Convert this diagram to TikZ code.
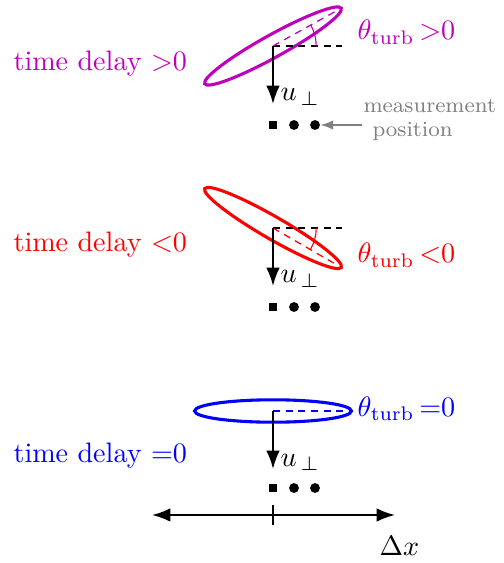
\documentclass[tikz,border=0pt]{standalone}
\usepackage{amsmath}
\usetikzlibrary{arrows.meta, positioning, calc}

\definecolor{turbmag}{RGB}{190,0,190}
\definecolor{measgray}{RGB}{128,128,128}

\begin{document}
\begin{tikzpicture}[
    x=0.0125cm, y=-0.0125cm,
    eddy/.style={line width=1.1pt},
    refline/.style={dash pattern=on 2.5pt off 2pt, line width=0.45pt},
    angarc/.style={line width=0.4pt},
    arr/.style={-{Latex[length=6.5pt, width=4.8pt]}, line width=0.7pt},
    lbl/.style={inner sep=0pt, anchor=base west},
    meas/.style={lbl, font=\fontsize{7.7}{9}\selectfont, text=measgray},
    sqmark/.style={fill=black, inner sep=0pt, minimum size=3.1pt},
    dotmark/.style={circle, fill=black, inner sep=0pt, minimum size=3.5pt},
]
    \useasboundingbox (0,0) rectangle (503,563);

    % Centres of the three eddies
    \coordinate (cA) at (273,46);
    \coordinate (cB) at (273,228);
    \coordinate (cC) at (273,411);

    % Eddy tilted upward
    \draw[eddy, turbmag, rotate around={29:(cA)}] (cA) ellipse [x radius=0.975cm, y radius=0.14cm];
    \draw[refline] (cA) -- (342,46);
    \draw[refline, turbmag] (cA) -- ($(cA)+(29:0.9cm)$);
    \draw[angarc, turbmag] ($(cA)+(0:0.54cm)$) arc[start angle=0, end angle=29, radius=0.54cm];
    \coordinate (tA) at (273,104);
    \draw[arr] (cA) -- (tA);
    \node[lbl] (uA) at (280,101) {$u_{\,\perp}$};
    \node[sqmark] (mA0) at (273,125) {};
    \node[dotmark] (mA1) at (294,125) {};
    \node[dotmark] (mA2) at (315,125) {};
    \coordinate (pA) at (362,125);
    \draw[-{Latex[length=4.5pt, width=3.4pt]}, line width=0.6pt, measgray] (pA) -- (mA2.east);
    \node[meas] (measA) at (363,113) {measurement};
    \node[meas] (measB) at (372,137) {position};
    \node[lbl, text=turbmag] (thA) at (357,40) {$\theta_{\mathrm{turb}}$\,$>$0};
    \node[lbl, text=turbmag] (tdA) at (13,71) {time delay $>$0};

    % Eddy tilted downward
    \draw[eddy, red, rotate around={-30:(cB)}] (cB) ellipse [x radius=0.985cm, y radius=0.14cm];
    \draw[refline] (cB) -- (342,228);
    \draw[refline, red] (cB) -- ($(cB)+(-30:0.9cm)$);
    \draw[angarc, red] ($(cB)+(0:0.54cm)$) arc[start angle=0, end angle=-30, radius=0.54cm];
    \coordinate (tB) at (273,286);
    \draw[arr] (cB) -- (tB);
    \node[lbl] (uB) at (280,283) {$u_{\,\perp}$};
    \node[sqmark] (mB0) at (273,307) {};
    \node[dotmark] (mB1) at (294,307) {};
    \node[dotmark] (mB2) at (315,307) {};
    \node[lbl, text=red] (thB) at (357,263) {$\theta_{\mathrm{turb}}$\,$<$0};
    \node[lbl, text=red] (tdB) at (13,252) {time delay $<$0};

    % Untilted eddy
    \draw[eddy, blue] (cC) ellipse [x radius=0.98cm, y radius=0.14cm];
    \draw[refline, blue] (cC) -- (350,411);
    \coordinate (tC) at (273,469);
    \draw[arr] (cC) -- (tC);
    \node[lbl] (uC) at (280,466) {$u_{\,\perp}$};
    \node[sqmark] (mC0) at (273,488) {};
    \node[dotmark] (mC1) at (294,488) {};
    \node[dotmark] (mC2) at (315,488) {};
    \node[lbl, text=blue] (thC) at (357,416) {$\theta_{\mathrm{turb}}$\,$=$0};
    \node[lbl, text=blue] (tdC) at (13,462) {time delay $=$0};

    % Separation axis
    \coordinate (axL) at (152,515);
    \coordinate (axR) at (395,515);
    \coordinate (tkT) at (273,505);
    \coordinate (tkB) at (273,525);
    \draw[{Latex[length=6.5pt, width=4.8pt]}-{Latex[length=6.5pt, width=4.8pt]}, line width=0.7pt] (axL) -- (axR);
    \draw[line width=0.7pt] (tkT) -- (tkB);
    \node[lbl] (dx) at (379,555) {$\Delta x$};
\end{tikzpicture}
\end{document}
